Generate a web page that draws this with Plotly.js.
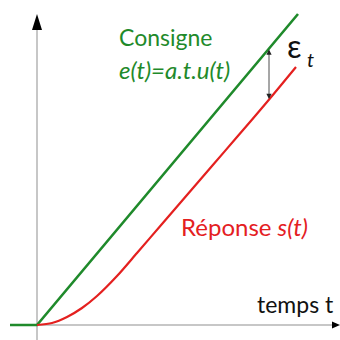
<!DOCTYPE html>
<html>
<head>
<meta charset="utf-8">
<script src="https://cdn.plot.ly/plotly-3.0.1.min.js"></script>
<style>html,body{margin:0;padding:0;background:#fff;}#chart{width:340px;height:340px;}</style>
</head>
<body>
<div id="chart"></div>
<script>
// Consigne e(t) = a.t.u(t)
const consigneT = [-27, 0, 261];
const consigneY = [0, 0, 311];
// Réponse s(t)
const reponseT = [0, 15, 30, 45, 60, 80, 100, 125, 150, 175, 200, 230, 259];
const reponseY = [0, 2, 8, 17, 29, 49, 72, 101, 130, 159, 188, 223, 258];
// Écart ε_t measured at t = 232
const ecartT = 232;
const ecartTop = 277;
const ecartBottom = 226;

const green = '#1f8a2b';
const red = '#e4201f';
const font = 'Lato, "Open Sans", sans-serif';

const traces = [
  {x: consigneT, y: consigneY, mode: 'lines', line: {color: green, width: 2.6}, hoverinfo: 'skip'},
  {x: reponseT, y: reponseY, mode: 'lines', line: {color: red, width: 2.2, shape: 'spline', smoothing: 0.8}, hoverinfo: 'skip'}
];

const layout = {
  width: 340, height: 340,
  margin: {l: 0, r: 0, t: 0, b: 0},
  paper_bgcolor: '#fff', plot_bgcolor: '#fff',
  showlegend: false,
  xaxis: {range: [-37, 303], visible: false, fixedrange: true},
  yaxis: {range: [-15, 325], visible: false, fixedrange: true},
  shapes: [
    {type: 'line', x0: 0, x1: 0, y0: -15, y1: 298, line: {color: '#b5b5b5', width: 1.5}, layer: 'below'},
    {type: 'path', path: 'M -5,295 L 5,295 L 0,311 Z', fillcolor: '#000', line: {width: 0}},
    {type: 'line', x0: -27, x1: 297, y0: 0, y1: 0, line: {color: '#b5b5b5', width: 1.5}, layer: 'below'},
    {type: 'path', path: 'M 295,3.5 L 295,-3.5 L 303,0 Z', fillcolor: '#000', line: {width: 0}}
  ],
  annotations: [
    {x: 80, y: 288, xref: 'x', yref: 'y', text: 'Consigne', showarrow: false, xanchor: 'left', yanchor: 'middle', font: {family: font, size: 23, color: green}},
    {x: 80, y: 256, xref: 'x', yref: 'y', text: '<i>e(t)=a.t.u(t)</i>', showarrow: false, xanchor: 'left', yanchor: 'middle', font: {family: font, size: 24, color: green}},
    {x: 142, y: 99, xref: 'x', yref: 'y', text: 'Réponse <i>s(t)</i>', showarrow: false, xanchor: 'left', yanchor: 'middle', font: {family: font, size: 24, color: red}},
    {x: 218, y: 21, xref: 'x', yref: 'y', text: 'temps t', showarrow: false, xanchor: 'left', yanchor: 'middle', font: {family: font, size: 23, color: '#111'}},
    {x: 257, y: 280, xref: 'x', yref: 'y', text: 'ε', showarrow: false, xanchor: 'center', yanchor: 'middle', font: {family: font, size: 32, color: '#111'}},
    {x: 273, y: 266, xref: 'x', yref: 'y', text: '<i>t</i>', showarrow: false, xanchor: 'center', yanchor: 'middle', font: {family: font, size: 20, color: '#111'}},
    {x: ecartT, y: ecartBottom, ax: ecartT, ay: ecartTop, xref: 'x', yref: 'y', axref: 'x', ayref: 'y', text: '', showarrow: true, arrowside: 'end+start', arrowhead: 2, arrowsize: 1.3, arrowwidth: 0.8, arrowcolor: '#222'}
  ]
};

Plotly.newPlot('chart', traces, layout, {staticPlot: true, displayModeBar: false});
</script>
</body>
</html>
